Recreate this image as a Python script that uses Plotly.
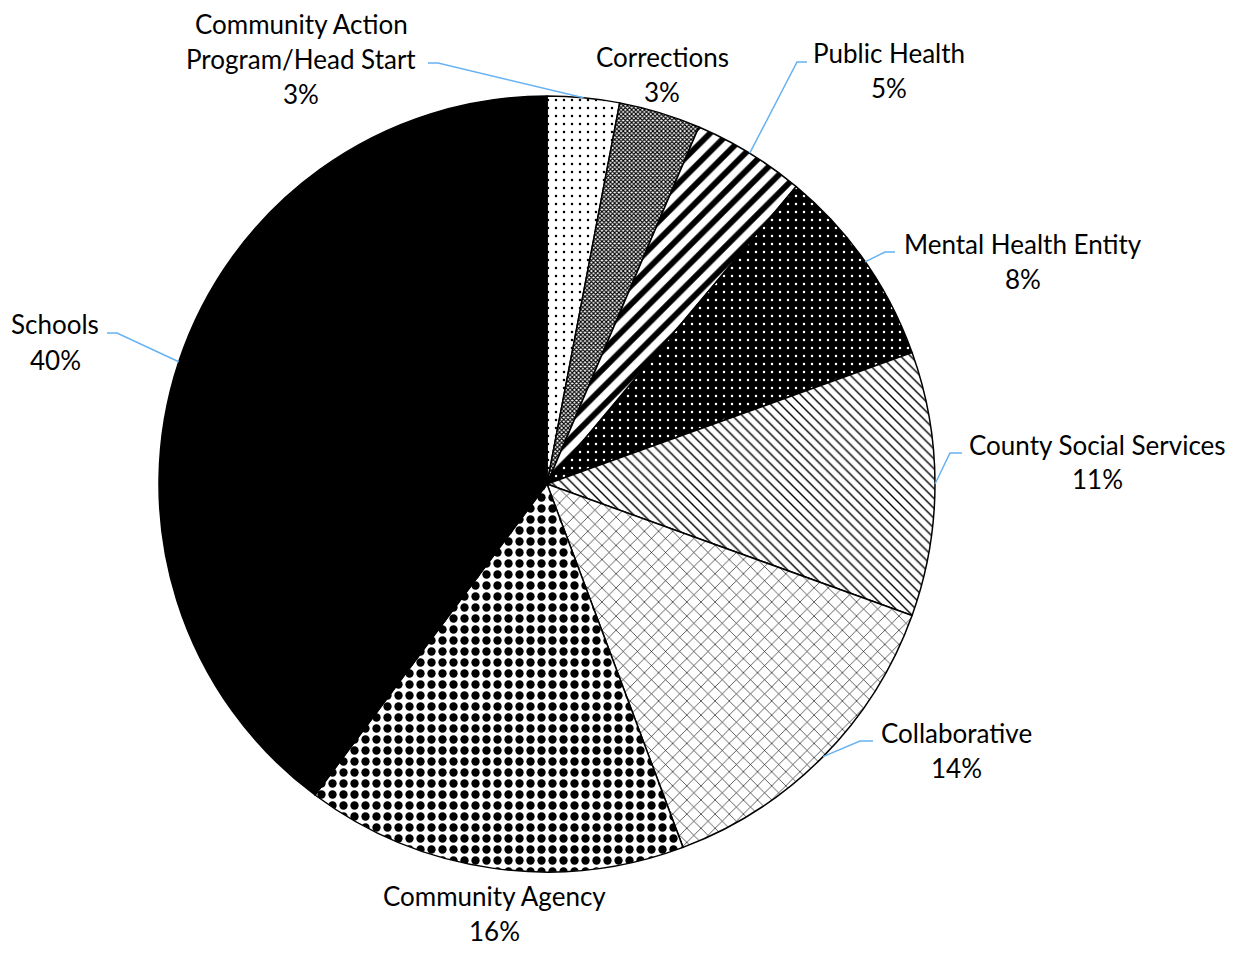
import math
import plotly.graph_objects as go

# ---- data ----
labels = ["Community Action<br>Program/Head Start", "Corrections", "Public Health",
          "Mental Health Entity", "County Social Services", "Collaborative",
          "Community Agency", "Schools"]
values = [3.0, 3.4, 4.7, 8.4, 11.0, 13.8, 15.9, 39.8]

# ---- layout constants (window pixels) ----
WIN_W, WIN_H = 1251, 957
OFF = 8                      # page body margin
W, H = WIN_W - 2 * OFF, WIN_H - 2 * OFF
CX, CY, R = 547, 484, 388

# label text centre (px) and leader elbow points (px), None = no leader
label_pos = [(301, 59), (662, 74), (889, 70), (1023, 261), (1097, 462), (956, 750), (494, 913), (55, 342)]
leaders = [
    [(438, 63), (428, 63)],
    None,
    [(797, 62), (807, 62)],
    [(885, 252), (895, 252)],
    [(950, 453), (962, 453)],
    [(860, 741), (873, 741)],
    None,
    [(117, 333), (107, 333)],
]

pat_shape = [".", "x", "/", ".", "\\", "x", ".", ""]
pat_fg = ["black", "black", "black", "white", "black", "black", "black", "black"]
pat_bg = ["white", "white", "white", "black", "white", "white", "white", "black"]
pat_size = [8, 3, 13, 8, 7, 10, 11, 8]
pat_sol = [0.08, 0.6, 0.45, 0.08, 0.2, 0.12, 0.45, 0.5]

def px2paper(x, y):
    return (x - OFF) / W, 1 - (y - OFF) / H

fig = go.Figure()
x0, y1 = px2paper(CX - R, CY - R)
x1, y0 = px2paper(CX + R, CY + R)
fig.add_trace(go.Pie(
    labels=labels, values=values, sort=False, direction="clockwise", rotation=0,
    textinfo="none", hoverinfo="label+percent", showlegend=False,
    marker=dict(colors=pat_bg, line=dict(color="black", width=1.5),
                pattern=dict(shape=pat_shape, fgcolor=pat_fg, bgcolor=pat_bg,
                             size=pat_size, solidity=pat_sol, fillmode="replace")),
    domain=dict(x=[x0, x1], y=[y0, y1]),
))

total = sum(values)
annotations = []
shapes = []
cum = 0.0
LINE = 35
for i, (lab, v) in enumerate(zip(labels, values)):
    a = 2 * math.pi * (cum + v / 2) / total
    cum += v
    pct = f"{round(v / total * 100)}%"
    lines = lab.split("<br>") + [pct]
    tx, ty = label_pos[i]
    n = len(lines)
    for j, t in enumerate(lines):
        xp, yp = px2paper(tx, ty + (j - (n - 1) / 2) * LINE)
        annotations.append(dict(x=xp, y=yp, xref="paper", yref="paper", text=t,
                                showarrow=False, xanchor="center", yanchor="middle",
                                font=dict(family="Lato, Open Sans, sans-serif", size=26, color="black")))
    if leaders[i]:
        ex, ey = CX + R * math.sin(a), CY - R * math.cos(a)
        pts = [(ex, ey)] + leaders[i]
        path = ""
        for k, (x, y) in enumerate(pts):
            xp, yp = px2paper(x, y)
            path += ("M " if k == 0 else " L ") + f"{xp:.5f} {yp:.5f}"
        shapes.append(dict(type="path", path=path, xref="paper", yref="paper",
                           line=dict(color="#66B2F2", width=1.5)))

fig.update_layout(width=W, height=H, margin=dict(l=0, r=0, t=0, b=0),
                  paper_bgcolor="white", plot_bgcolor="white",
                  annotations=annotations, shapes=shapes)
fig.write_html("out.html")
